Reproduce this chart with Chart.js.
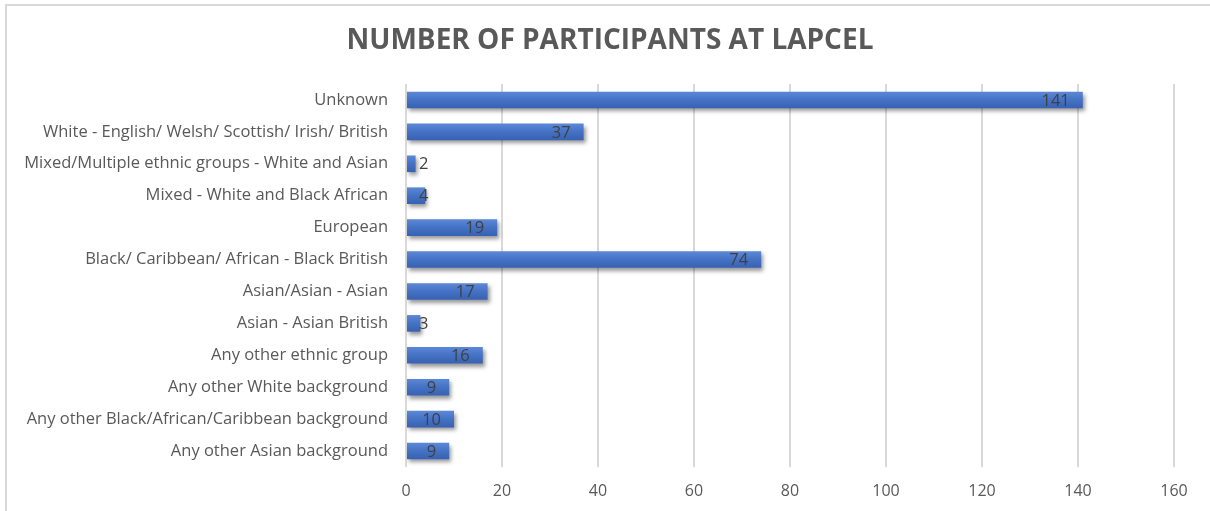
<!DOCTYPE html>
<html>
<head>
<meta charset="utf-8">
<title>Number of participants at LAPCEL</title>
<script src="https://cdn.jsdelivr.net/npm/chart.js@4/dist/chart.umd.min.js"></script>
<style>
  html, body { margin: 0; padding: 0; background: #fff; overflow: hidden; }
  .frame {
    position: absolute; left: 5px; top: 4px; width: 1300px; height: 600px;
    border-left: 2px solid #d9d9d9; border-top: 2px solid #d9d9d9;
  }
  .wrap { position: absolute; left: 0; top: 0; width: 1210px; height: 511px; }
</style>
</head>
<body>
<div class="frame"></div>
<div class="wrap"><canvas id="chart"></canvas></div>
<script>
// ethnic groups, top to bottom
const groups = [
  'Unknown',
  'White - English/ Welsh/ Scottish/ Irish/ British',
  'Mixed/Multiple ethnic groups - White and Asian',
  'Mixed - White and Black African',
  'European',
  'Black/ Caribbean/ African - Black British',
  'Asian/Asian - Asian',
  'Asian - Asian British',
  'Any other ethnic group',
  'Any other White background',
  'Any other Black/African/Caribbean background',
  'Any other Asian background'
];
const participants = [141, 37, 2, 4, 19, 74, 17, 3, 16, 9, 10, 9];
const xTicks = [0, 20, 40, 60, 80, 100, 120, 140, 160];
const chartTitle = 'NUMBER OF PARTICIPANTS AT LAPCEL';

const labelFont = '"Open Sans", "Liberation Sans", sans-serif';

// soft top-to-bottom shading for each bar
const barFill = (context) => {
  const chart = context.chart;
  const yScale = chart.scales.y;
  if (!chart.chartArea || !yScale || context.dataIndex === undefined) return '#4472c4';
  const cy = yScale.getPixelForValue(context.dataIndex);
  const g = chart.ctx.createLinearGradient(0, cy - 8, 0, cy + 8);
  g.addColorStop(0, '#5b87d6');
  g.addColorStop(0.5, '#4472c4');
  g.addColorStop(1, '#3862b3');
  return g;
};

// drop shadow under the bars
const barShadow = {
  id: 'barShadow',
  beforeDatasetsDraw(chart) {
    const ctx = chart.ctx;
    ctx.save();
    ctx.shadowColor = 'rgba(0, 0, 0, 0.4)';
    ctx.shadowBlur = 4;
    ctx.shadowOffsetX = 2;
    ctx.shadowOffsetY = 3;
  },
  afterDatasetsDraw(chart) {
    chart.ctx.restore();
  }
};

// title centred over the whole frame rather than the plot area
const frameTitle = {
  id: 'frameTitle',
  afterDraw(chart) {
    const ctx = chart.ctx;
    ctx.save();
    ctx.font = 'bold 28px ' + labelFont;
    ctx.fillStyle = '#595959';
    ctx.textAlign = 'center';
    ctx.textBaseline = 'middle';
    ctx.fillText(chartTitle, 610, 41);
    ctx.restore();
  }
};

// value labels near the end of each bar
const valueLabels = {
  id: 'valueLabels',
  afterDraw(chart) {
    const ctx = chart.ctx;
    const meta = chart.getDatasetMeta(0);
    ctx.save();
    ctx.font = '16.5px ' + labelFont;
    ctx.fillStyle = '#404040';
    ctx.textBaseline = 'middle';
    ctx.textAlign = 'left';
    meta.data.forEach((bar, i) => {
      const text = String(participants[i]);
      const w = ctx.measureText(text).width;
      const left = Math.max(bar.x - 13 - w, bar.base + 12);
      ctx.fillText(text, left, bar.y + 1);
    });
    ctx.restore();
  }
};

new Chart(document.getElementById('chart'), {
  type: 'bar',
  data: {
    labels: groups,
    datasets: [{
      data: participants,
      backgroundColor: barFill,
      borderWidth: 0,
      categoryPercentage: 1,
      barPercentage: 0.52
    }]
  },
  plugins: [barShadow, valueLabels, frameTitle],
  options: {
    indexAxis: 'y',
    responsive: true,
    maintainAspectRatio: false,
    animation: false,
    layout: { padding: { left: 0, right: 36, top: 84, bottom: 0 } },
    plugins: {
      legend: { display: false },
      tooltip: { enabled: false },
      title: { display: false }
    },
    scales: {
      x: {
        min: 0,
        max: 160,
        afterBuildTicks: (axis) => { axis.ticks = xTicks.map(v => ({ value: v })); },
        afterFit: (axis) => { axis.height = 44; },
        grid: { color: '#d9d9d9', lineWidth: 2, drawTicks: false },
        border: { display: false },
        ticks: { color: '#595959', font: { family: labelFont, size: 16 }, padding: 15 }
      },
      y: {
        afterFit: (axis) => { axis.width = 406; },
        grid: { display: false, drawTicks: false },
        border: { display: false },
        ticks: { color: '#595959', font: { family: labelFont, size: 16.5 }, padding: 18 }
      }
    }
  }
});
</script>
</body>
</html>
